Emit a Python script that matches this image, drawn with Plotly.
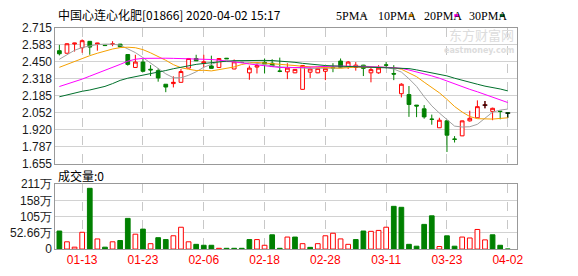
import plotly.graph_objects as go

# ---------------- data ----------------
dates = ["01-08", "01-09", "01-10", "01-13", "01-14", "01-15", "01-16", "01-17", "01-20", "01-21",
         "01-22", "01-23", "01-24", "01-29", "01-30", "01-31", "02-03", "02-04", "02-05", "02-06",
         "02-07", "02-10", "02-11", "02-12", "02-13", "02-14", "02-17", "02-18", "02-19", "02-20",
         "02-21", "02-24", "02-25", "02-26", "02-27", "02-28", "03-02", "03-03", "03-04", "03-05",
         "03-06", "03-09", "03-10", "03-11", "03-12", "03-13", "03-16", "03-17", "03-18", "03-19",
         "03-20", "03-23", "03-24", "03-25", "03-26", "03-27", "03-30", "03-31", "04-01", "04-02"]

open_ = [2.537, 2.517, 2.589, 2.560, 2.610, 2.587, 2.580, 2.587, 2.588, 2.507,
         2.406, 2.448, 2.392, 2.381, 2.275, 2.280, 2.290, 2.401, 2.476, 2.438,
         2.418, 2.406, 2.478, 2.394, 2.446, 2.364, 2.409, 2.446, 2.439, 2.378,
         2.372, 2.364, 2.235, 2.369, 2.364, 2.376, 2.406, 2.456, 2.413, 2.406,
         2.424, 2.364, 2.364, 2.426, 2.359, 2.201, 2.194, 2.112, 2.083, 2.003,
         1.935, 1.989, 1.847, 1.872, 1.989, 2.013, 2.112, 2.063, 2.065, 2.050]
high = [2.582, 2.595, 2.598, 2.625, 2.612, 2.598, 2.581, 2.611, 2.590, 2.507,
        2.505, 2.473, 2.424, 2.399, 2.275, 2.337, 2.394, 2.480, 2.505, 2.505,
        2.498, 2.478, 2.480, 2.468, 2.450, 2.421, 2.439, 2.476, 2.470, 2.483,
        2.439, 2.393, 2.424, 2.406, 2.401, 2.401, 2.439, 2.476, 2.456, 2.448,
        2.426, 2.406, 2.424, 2.448, 2.424, 2.283, 2.261, 2.113, 2.112, 2.038,
        2.013, 1.991, 1.870, 1.991, 2.068, 2.149, 2.144, 2.092, 2.066, 2.050]
low = [2.500, 2.515, 2.530, 2.520, 2.505, 2.537, 2.576, 2.572, 2.565, 2.420,
       2.404, 2.369, 2.339, 2.295, 2.213, 2.250, 2.288, 2.400, 2.456, 2.406,
       2.397, 2.404, 2.472, 2.392, 2.440, 2.310, 2.359, 2.359, 2.413, 2.369,
       2.315, 2.362, 2.233, 2.324, 2.362, 2.307, 2.369, 2.404, 2.394, 2.381,
       2.339, 2.290, 2.357, 2.399, 2.307, 2.172, 2.020, 2.018, 2.006, 1.959,
       1.933, 1.746, 1.820, 1.870, 1.983, 2.011, 2.087, 1.994, 2.001, 2.013]
close = [2.513, 2.591, 2.596, 2.615, 2.565, 2.596, 2.577, 2.590, 2.567, 2.430,
         2.448, 2.376, 2.387, 2.324, 2.253, 2.290, 2.374, 2.476, 2.458, 2.450,
         2.399, 2.476, 2.474, 2.450, 2.445, 2.401, 2.421, 2.433, 2.413, 2.376,
         2.401, 2.391, 2.421, 2.394, 2.399, 2.399, 2.402, 2.406, 2.448, 2.424,
         2.399, 2.389, 2.401, 2.424, 2.354, 2.275, 2.117, 2.105, 2.020, 2.001,
         1.994, 1.877, 1.845, 1.989, 2.009, 2.100, 2.112, 2.087, 2.062, 2.050]

ma5 = [2.470, 2.503, 2.540, 2.562, 2.573, 2.585, 2.588, 2.588, 2.580, 2.553,
       2.522, 2.483, 2.442, 2.395, 2.356, 2.326, 2.325, 2.345, 2.372, 2.408,
       2.430, 2.452, 2.452, 2.450, 2.449, 2.447, 2.438, 2.430, 2.423, 2.410,
       2.408, 2.403, 2.400, 2.398, 2.400, 2.401, 2.402, 2.401, 2.410, 2.416,
       2.416, 2.413, 2.412, 2.407, 2.393, 2.370, 2.318, 2.258, 2.178, 2.106,
       2.050, 2.000, 1.948, 1.941, 1.943, 1.962, 2.010, 2.057, 2.073, 2.081]
ma10 = [2.407, 2.430, 2.455, 2.478, 2.498, 2.517, 2.535, 2.550, 2.561, 2.564,
        2.560, 2.545, 2.520, 2.492, 2.462, 2.428, 2.404, 2.392, 2.382, 2.384,
        2.379, 2.389, 2.397, 2.410, 2.429, 2.440, 2.445, 2.441, 2.436, 2.429,
        2.429, 2.421, 2.415, 2.410, 2.405, 2.405, 2.403, 2.400, 2.404, 2.409,
        2.408, 2.408, 2.406, 2.409, 2.405, 2.392, 2.364, 2.334, 2.291, 2.249,
        2.208, 2.157, 2.101, 2.058, 2.023, 2.006, 2.005, 2.003, 2.008, 2.013]
ma20 = [2.257, 2.275, 2.295, 2.315, 2.338, 2.360, 2.385, 2.407, 2.430, 2.455,
        2.470, 2.477, 2.479, 2.479, 2.478, 2.477, 2.476, 2.476, 2.475, 2.473,
        2.468, 2.463, 2.457, 2.449, 2.442, 2.433, 2.425, 2.417, 2.410, 2.406,
        2.404, 2.404, 2.405, 2.408, 2.412, 2.415, 2.417, 2.417, 2.416, 2.415,
        2.414, 2.412, 2.410, 2.407, 2.404, 2.399, 2.386, 2.372, 2.357, 2.340,
        2.322, 2.300, 2.275, 2.255, 2.235, 2.216, 2.196, 2.176, 2.155, 2.132]
ma30 = [2.177, 2.192, 2.207, 2.220, 2.230, 2.245, 2.258, 2.280, 2.305, 2.322,
        2.333, 2.345, 2.360, 2.372, 2.382, 2.396, 2.408, 2.422, 2.430, 2.437,
        2.444, 2.450, 2.455, 2.459, 2.461, 2.462, 2.462, 2.461, 2.460, 2.456,
        2.452, 2.446, 2.438, 2.431, 2.426, 2.421, 2.418, 2.416, 2.414, 2.412,
        2.410, 2.409, 2.408, 2.407, 2.406, 2.402, 2.397, 2.387, 2.375, 2.364,
        2.352, 2.340, 2.322, 2.308, 2.292, 2.275, 2.260, 2.250, 2.238, 2.223]

# volume in 万 (10k shares); vol_up = red (hollow) bar, else green
volume = [58.6, 23.6, 6.2, 54.5, 197.4, 32.9, 6.2, 23.6, 27.8, 99.7,
          48.3, 64.8, 17.5, 37.0, 30.8, 43.2, 70.9, 23.6, 15.4, 12.3,
          12.3, 2.5, 2.5, 2.5, 2.5, 30.8, 30.8, 12.3, 46.3, 2.5,
          39.0, 39.0, 17.5, 5.5, 17.5, 43.2, 51.4, 33.0, 15.4, 30.8,
          58.6, 57.6, 60.6, 71.0, 138.8, 135.7, 15.4, 9.3, 80.2, 108.0,
          8.2, 43.0, 9.3, 39.0, 36.0, 63.7, 29.8, 46.3, 12.3, 0]
vol_up = [0, 1, 1, 1, 0, 1, 0, 1, 0, 0,
          1, 0, 1, 0, 0, 1, 1, 1, 0, 0,
          0, 1, 0, 0, 0, 0, 1, 1, 0, 0,
          1, 0, 1, 0, 1, 1, 1, 1, 1, 0,
          0, 1, 1, 1, 0, 0, 0, 0, 0, 0,
          1, 0, 0, 1, 1, 1, 1, 0, 0, 0]

price_ticks = [1.655, 1.7875, 1.920, 2.0525, 2.185, 2.3175, 2.450, 2.5825, 2.715]
price_labels = ["1.655", "1.787", "1.920", "2.052", "2.185", "2.318", "2.450", "2.583", "2.715"]
vol_ticks = [0, 52.66, 105.32, 157.98, 210.64]
vol_labels = ["0", "52.66万", "105万", "158万", "211万"]
label_dates = ["01-13", "01-23", "02-06", "02-18", "02-28", "03-11", "03-23", "04-02"]

title_text = "中国心连心化肥[01866] 2020-04-02 15:17"
ma_names = ["5PMA", "10PMA", "20PMA", "30PMA"]
ma_colors = ["#a0a0a0", "#f5a000", "#ff00ff", "#00702c"]

# ---------------- figure ----------------
W, H = 578, 276
RED, GREEN = "#ff0000", "#008000"
idx = list(range(len(dates)))
tick_idx = [dates.index(d) for d in label_dates]

fig = go.Figure()

fig.add_trace(go.Candlestick(
    x=idx, open=open_, high=high, low=low, close=close,
    increasing=dict(line=dict(color=RED, width=1), fillcolor="#ffffff"),
    decreasing=dict(line=dict(color=GREEN, width=1), fillcolor=GREEN),
    whiskerwidth=0, hoverinfo="skip", xaxis="x", yaxis="y"))

# flat (open == close) candles are drawn black
dx, dy = [], []
for i in idx:
    if open_[i] == close[i]:
        dx += [i - 0.33, i + 0.33, None, i, i, None]
        dy += [close[i], close[i], None, high[i], low[i], None]
fig.add_trace(go.Scatter(x=dx, y=dy, mode="lines", line=dict(color="#000000", width=1),
                         hoverinfo="skip", xaxis="x", yaxis="y"))

for vals, col in zip([ma5, ma10, ma20, ma30], ma_colors):
    fig.add_trace(go.Scatter(x=idx, y=vals, mode="lines", line=dict(color=col, width=1),
                             hoverinfo="skip", xaxis="x", yaxis="y"))

fig.add_trace(go.Bar(
    x=idx, y=volume, width=0.62,
    marker=dict(color=["#ffffff" if u else GREEN for u in vol_up],
                line=dict(color=[RED if u else GREEN for u in vol_up], width=1)),
    hoverinfo="skip", xaxis="x2", yaxis="y2"))

xdom = [56 / W, 522.7 / W]
xr = [-0.52, 60.25]
common_x = dict(domain=xdom, range=xr, tickvals=tick_idx, showgrid=True, gridcolor="#c8c8c8",
                griddash="dash", gridwidth=1, zeroline=False, showline=True, mirror=True,
                linecolor="#999999", linewidth=1, ticks="", fixedrange=True)
common_y = dict(showgrid=True, gridcolor="#d2d2d2", gridwidth=1, zeroline=False, showline=True,
                mirror=True, linecolor="#999999", linewidth=1, ticks="",
                tickfont=dict(family="Liberation Sans", size=12, color="#1a1a1a"))

fig.update_layout(
    width=W, height=H, margin=dict(l=0, r=0, t=0, b=0),
    paper_bgcolor="#ffffff", plot_bgcolor="#ffffff", showlegend=False,
    xaxis=dict(**common_x, anchor="y", showticklabels=False, rangeslider=dict(visible=False)),
    yaxis=dict(**common_y, domain=[1 - 165 / H, 1 - 22 / H], range=[1.655, 2.715],
               tickvals=price_ticks, ticktext=price_labels),
    xaxis2=dict(**common_x, anchor="y2", ticktext=label_dates,
                tickfont=dict(family="Liberation Sans", size=12, color=RED)),
    yaxis2=dict(**common_y, domain=[1 - 255 / H, 1 - 186.7 / H], range=[0, 210.64],
                tickvals=vol_ticks, ticktext=vol_labels),
)

ann = []
ann.append(dict(text=title_text, x=57 / W, y=1 - 8 / H, xref="paper", yref="paper",
                xanchor="left", yanchor="middle", showarrow=False,
                font=dict(family="Noto Sans CJK SC", size=12, color="#000000")))
ann.append(dict(text=f"成交量:{volume[-1]}", x=57 / W, y=1 - 177 / H, xref="paper", yref="paper",
                xanchor="left", yanchor="middle", showarrow=False,
                font=dict(family="Noto Sans CJK SC", size=12, color="#000000")))
# watermark
ann.append(dict(text="东方财富网", x=521 / W, y=1 - 29 / H, xref="paper", yref="paper",
                xanchor="right", yanchor="middle", showarrow=False,
                font=dict(family="Noto Sans CJK SC", size=13, color="#dcdcdc")))
ann.append(dict(text="<b>eastmoney.com</b>", x=521 / W, y=1 - 46 / H, xref="paper", yref="paper",
                xanchor="right", yanchor="middle", showarrow=False,
                font=dict(family="DejaVu Sans", size=8, color="#dcdcdc")))

shapes = []
leg_x = [338, 380, 426, 472]
sq_x = [365, 413, 459, 505]
for name, col, lx, sx in zip(ma_names, ma_colors, leg_x, sq_x):
    ann.append(dict(text=name, x=lx / W, y=1 - 9 / H, xref="paper", yref="paper",
                    xanchor="left", yanchor="middle", showarrow=False,
                    font=dict(family="Liberation Serif", size=12, color="#000000")))
    shapes.append(dict(type="rect", xref="paper", yref="paper",
                       x0=sx / W, x1=(sx + 5) / W, y0=1 - 10.5 / H, y1=1 - 7.5 / H,
                       fillcolor=col, line=dict(width=0)))

fig.update_layout(annotations=ann, shapes=shapes)
fig.write_html("out.html")
